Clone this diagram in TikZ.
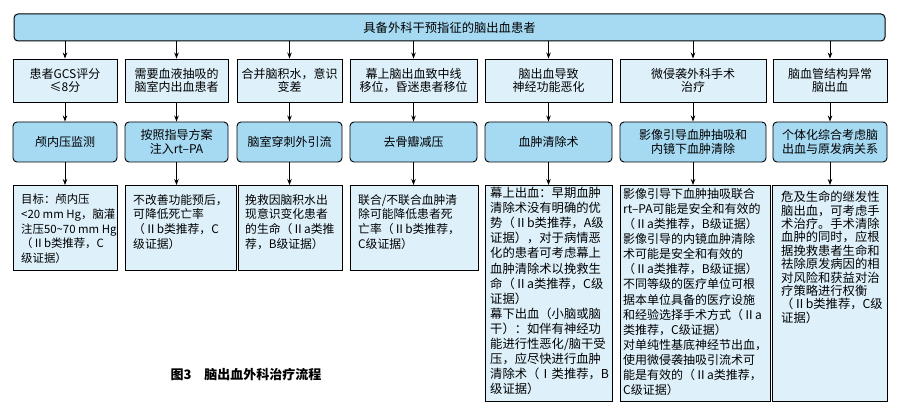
\documentclass[tikz,border=0pt]{standalone}
\usepackage{fontspec}
\setmainfont{Noto Sans CJK SC}
\usetikzlibrary{arrows.meta}
\definecolor{topblue}{RGB}{166,217,242}
\definecolor{paleblue}{RGB}{222,241,251}
\tikzset{
  topbox/.style={draw=black,line width=1pt,fill=topblue,rounded corners=4pt,inner sep=0pt,font=\fontsize{12.3}{14}\selectfont},
  condbox/.style={draw=black,line width=0.9pt,fill=paleblue,align=center,inner sep=0pt,minimum height=43pt,font=\fontsize{12}{13.5}\selectfont},
  treatbox/.style={draw=black,line width=0.9pt,fill=topblue,rounded corners=4pt,align=center,inner sep=0pt,minimum height=40pt,font=\fontsize{12}{14.5}\selectfont},
  recbox/.style={draw=black,line width=1pt,fill=paleblue,inner sep=0pt,anchor=north west},
  rectext/.style={anchor=north west,align=left,inner sep=0pt},
  smalltext/.style={rectext,font=\fontsize{11.8}{14.7}\selectfont},
  bigtext/.style={rectext,font=\fontsize{12.3}{15.1}\selectfont},
  arr/.style={-{Stealth[length=6pt,width=4.5pt]},line width=0.8pt},
  captionstyle/.style={inner sep=0pt,font=\fontsize{13}{15}\selectfont\bfseries},
}
\begin{document}
\begin{tikzpicture}[x=1pt,y=-1pt]
\useasboundingbox[fill=white] (0,0) rectangle (900,414);

% top box
\node[topbox,minimum width=871pt,minimum height=27pt] (top) at (449.5,27.5) {具备外科干预指征的脑出血患者};

% row 1
\node[condbox,minimum width=104pt] (a1) at (65,80.5) {患者GCS评分\\≤8分};
\node[condbox,minimum width=103pt] (a2) at (176.5,80.5) {需要血液抽吸的\\脑室内出血患者};
\node[condbox,minimum width=105pt] (a3) at (289.5,80.5) {合并脑积水，意识\\变差};
\node[condbox,minimum width=127pt] (a4) at (413.5,80.5) {幕上脑出血致中线\\移位，昏迷患者移位};
\node[condbox,minimum width=127pt] (a5) at (548.5,80.5) {脑出血导致\\神经功能恶化};
\node[condbox,minimum width=146pt] (a6) at (693,80.5) {微侵袭外科手术\\治疗};
\node[condbox,minimum width=114pt] (a7) at (830,80.5) {脑血管结构异常\\脑出血};

% row 2
\node[treatbox,minimum width=104pt] (b1) at (65,142) {颅内压监测};
\node[treatbox,minimum width=103pt] (b2) at (176.5,142) {按照指导方案\\注入rt–PA};
\node[treatbox,minimum width=105pt] (b3) at (289.5,142) {脑室穿刺外引流};
\node[treatbox,minimum width=127pt] (b4) at (413.5,142) {去骨瓣减压};
\node[treatbox,minimum width=127pt] (b5) at (548.5,142) {血肿清除术};
\node[treatbox,minimum width=146pt] (b6) at (693,142) {影像引导血肿抽吸和\\内镜下血肿清除};
\node[treatbox,minimum width=114pt] (b7) at (830,142) {个体化综合考虑脑\\出血与原发病关系};

% row 3 boxes
\node[recbox,minimum width=104pt,minimum height=85pt] (r1) at (13,185) {};
\node[recbox,minimum width=111pt,minimum height=85pt] (r2) at (125,185) {};
\node[recbox,minimum width=104pt,minimum height=85pt] (r3) at (238,185) {};
\node[recbox,minimum width=128pt,minimum height=85pt] (r4) at (350,185) {};
\node[recbox,minimum width=127pt,minimum height=216pt] (r5) at (485,185) {};
\node[recbox,minimum width=150pt,minimum height=216pt] (r6) at (620,185) {};
\node[recbox,minimum width=115pt,minimum height=216pt] (r7) at (772,185) {};

% row 3 texts
\node[smalltext,font=\fontsize{11.4}{14.7}\selectfont] (t1) at (21,194) {目标：颅内压\\
\textless20 mm Hg，脑灌\\
注压50\textasciitilde70 mm Hg\\
（Ⅱb类推荐，C\\
级证据）};
\node[smalltext] (t2) at (133,194) {不改善功能预后，\\
可降低死亡率\\
（Ⅱb类推荐，C\\
级证据）};
\node[smalltext] (t3) at (245,194) {挽救因脑积水出\\
现意识变化患者\\
的生命（Ⅱa类推\\
荐，B级证据）};
\node[smalltext] (t4) at (358,194) {联合/不联合血肿清\\
除可能降低患者死\\
亡率（Ⅱb类推荐，\\
C级证据）};
\node[bigtext] (t5) at (490,187) {幕上出血：早期血肿\\
清除术没有明确的优\\
势（Ⅱb类推荐，A级\\
证据），对于病情恶\\
化的患者可考虑幕上\\
血肿清除术以挽救生\\
命（Ⅱa类推荐，C级\\
证据）\\
幕下出血（小脑或脑\\
干）：如伴有神经功\\
能进行性恶化/脑干受\\
压，应尽快进行血肿\\
清除术（Ⅰ类推荐，B\\
级证据）};
\node[bigtext,font=\fontsize{12}{15.1}\selectfont] (t6) at (623,188) {影像引导下血肿抽吸联合\\
rt–PA可能是安全和有效的\\
（Ⅱa类推荐，B级证据）\\
影像引导的内镜血肿清除\\
术可能是安全和有效的\\
（Ⅱa类推荐，B级证据）\\
不同等级的医疗单位可根\\
据本单位具备的医疗设施\\
和经验选择手术方式（Ⅱa\\
类推荐，C级证据）\\
对单纯性基底神经节出血，\\
使用微侵袭抽吸引流术可\\
能是有效的（Ⅱa类推荐，\\
C级证据）};
\node[rectext,font=\fontsize{12.3}{13.4}\selectfont] (t7) at (781,191) {危及生命的继发性\\
脑出血，可考虑手\\
术治疗。手术清除\\
血肿的同时，应根\\
据挽救患者生命和\\
祛除原发病因的相\\
对风险和获益对治\\
疗策略进行权衡\\
（Ⅱb类推荐，C级\\
证据）};

% caption
\node[captionstyle] (cap) at (246,375) {图3\hspace{1em}脑出血外科治疗流程};

% arrows
\foreach \i in {1,...,7}{
  \draw[arr] (top.south -| a\i.north) -- (a\i.north);
  \draw[arr] (a\i.south) -- (b\i.north);
  \draw[arr] (b\i.south) -- (b\i.south |- r\i.north);
}
\end{tikzpicture}
\end{document}
